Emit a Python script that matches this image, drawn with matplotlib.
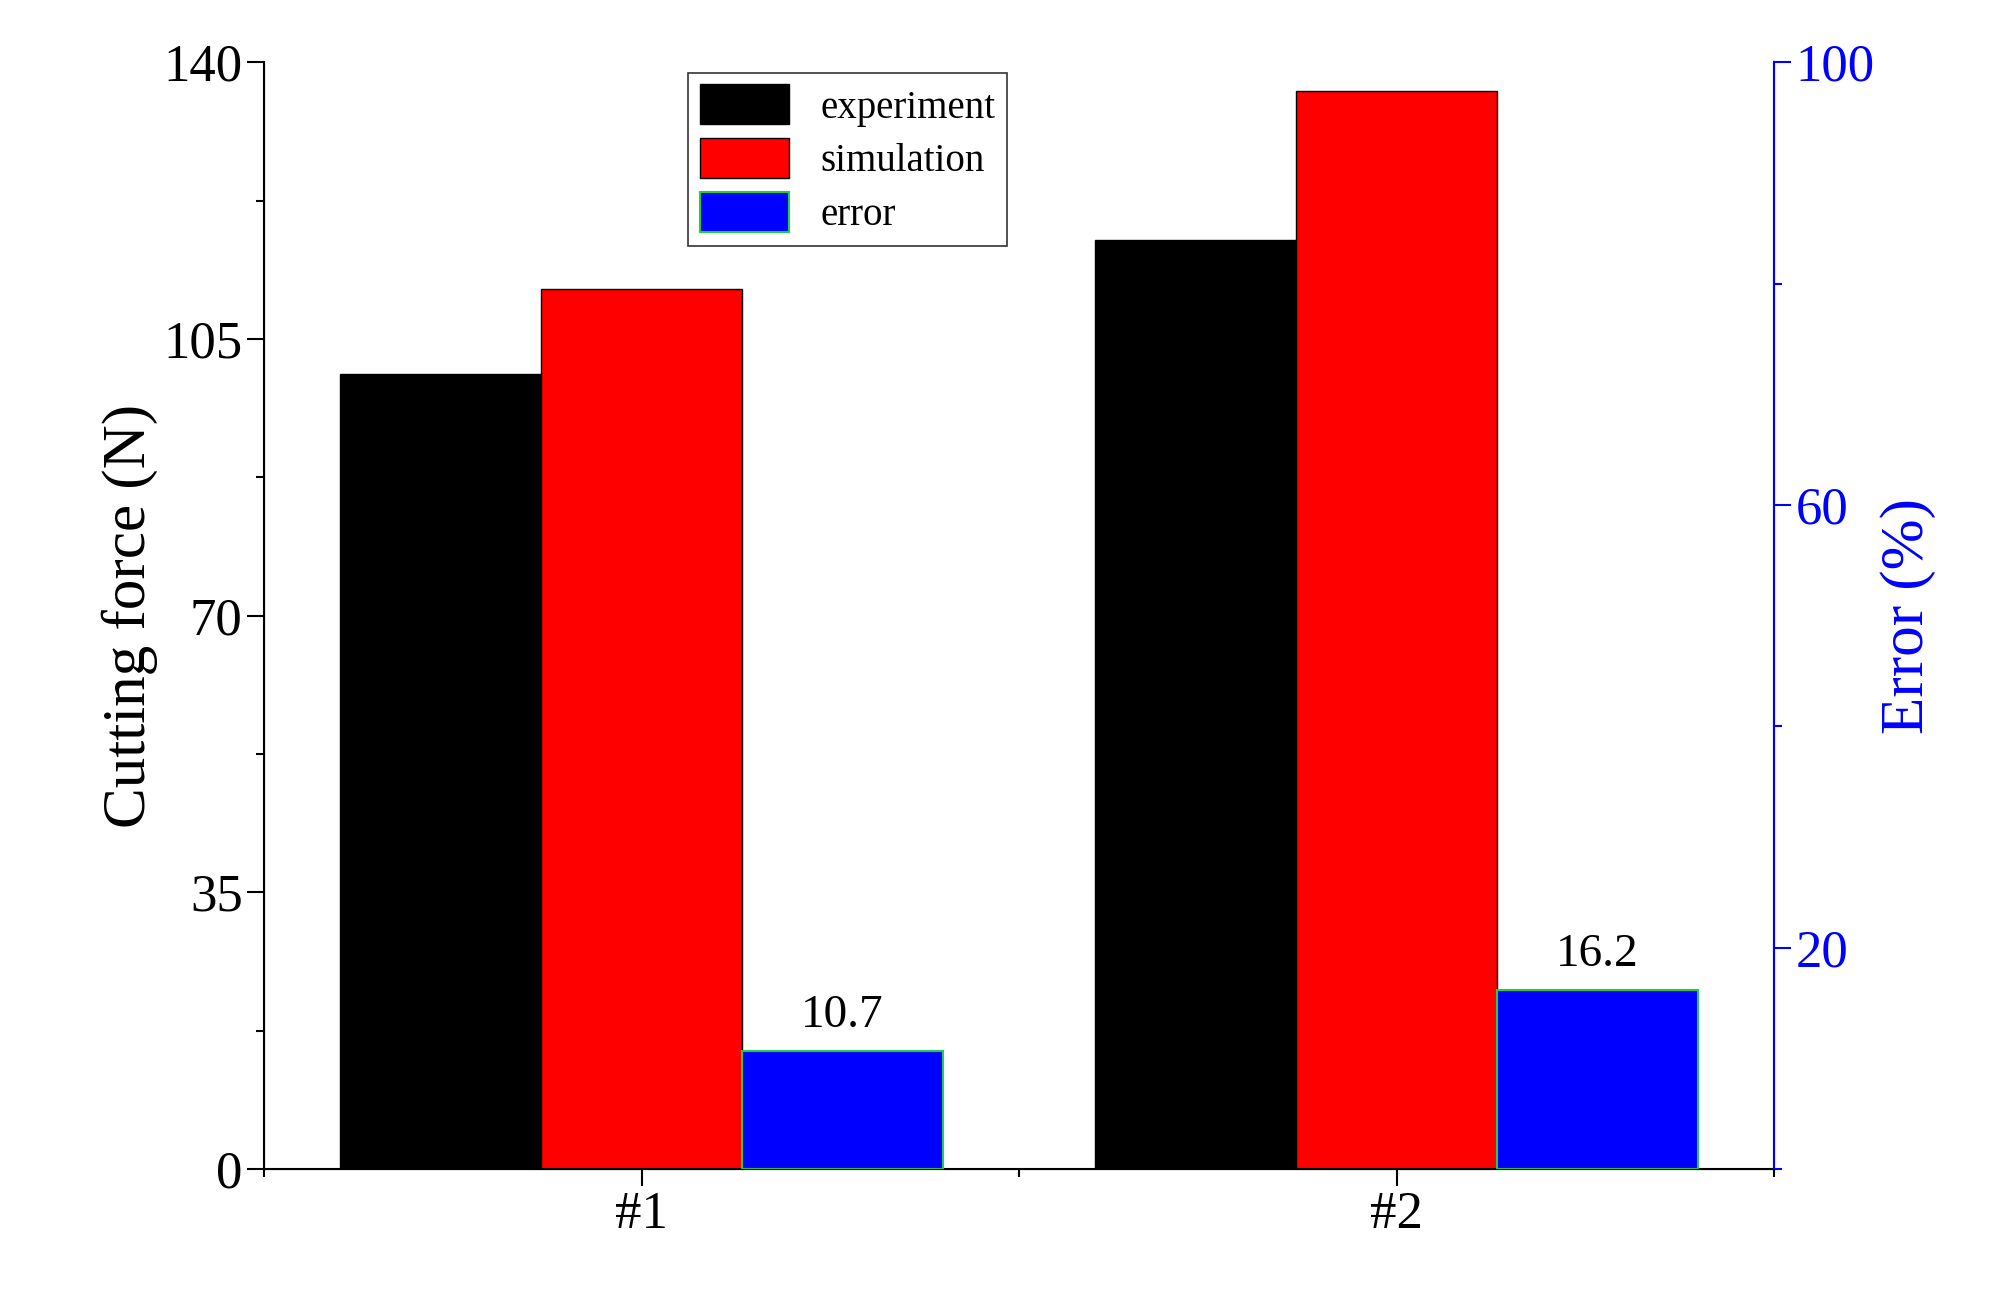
import matplotlib.pyplot as plt
import numpy as np
from matplotlib.ticker import MultipleLocator

plt.rcParams['font.family'] = ['Liberation Serif', 'DejaVu Serif']

groups = ['#1', '#2']
experiment = [100.5, 117.5]
simulation = [111.3, 136.3]
error = [10.7, 16.2]

x = np.array([1, 2])
w = 0.266

fig = plt.figure(figsize=(20.16, 12.96), dpi=100)
ax = fig.add_axes([0.131, 0.098, 0.749, 0.854])
ax2 = ax.twinx()

b1 = ax.bar(x - w, experiment, w, color='black', edgecolor='black', linewidth=1, label='experiment')
b2 = ax.bar(x, simulation, w, color='#ff0000', edgecolor='black', linewidth=1, label='simulation')
b3 = ax2.bar(x + w, error, w, color='#0000ff', edgecolor='#22cc44', linewidth=1.5, label='error')
for xi, e in zip(x + w, error):
    ax2.text(xi, e + 1.2, f'{e}', ha='center', va='bottom', fontsize=34)

ax.set_xlim(0.5, 2.5)
ax.set_ylim(0, 140)
ax2.set_ylim(0, 100)
ax.set_xticks(x)
ax.set_xticklabels(groups)
ax.xaxis.set_minor_locator(MultipleLocator(0.5))
ax.yaxis.set_major_locator(MultipleLocator(35))
ax.yaxis.set_minor_locator(MultipleLocator(17.5))
ax2.set_yticks([20, 60, 100])
ax2.yaxis.set_minor_locator(MultipleLocator(20))

ax.tick_params(axis='both', which='major', labelsize=38, length=12, width=1.5, direction='out')
ax.tick_params(axis='both', which='minor', length=6, width=1.5, direction='out')
ax2.tick_params(axis='y', which='major', labelsize=38, length=12, width=1.5, colors='blue')
ax2.tick_params(axis='y', which='minor', length=6, width=1.5, colors='blue')

ax.set_ylabel('Cutting force (N)', fontsize=44)
ax2.set_ylabel('Error (%)', fontsize=44, color='blue')

for s in ['top']:
    ax.spines[s].set_visible(False)
    ax2.spines[s].set_visible(False)
ax2.spines['right'].set_color('blue')
for sp in ax.spines.values():
    sp.set_linewidth(1.5)
ax2.spines['right'].set_linewidth(1.5)

leg = ax.legend([b1, b2, b3], ['experiment', 'simulation', 'error'], loc='upper left',
                bbox_to_anchor=(0.268, 1.008), fontsize=28, fancybox=False, edgecolor='black',
                handlelength=2.3, handleheight=1.2, borderpad=0.3, labelspacing=0.3)
leg.get_frame().set_linewidth(1.2)

fig.savefig('out.png', dpi=100)
